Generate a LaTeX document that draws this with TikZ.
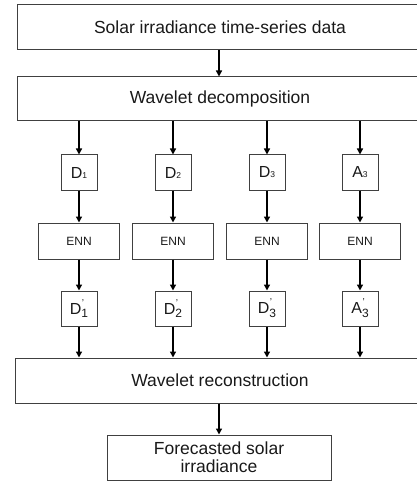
\documentclass[tikz,border=0pt]{standalone}
\usepackage{fontspec}
\setmainfont{Liberation Sans}
\usetikzlibrary{arrows.meta}

% D'_k style label: prime stacked over a subscript
\newcommand{\primed}[2]{#1\rlap{\raisebox{0.95ex}{\fontsize{10}{10}\selectfont\hspace{0.5pt}'}}\raisebox{-0.45ex}{\fontsize{12}{12}\selectfont #2}}
% small inline index used in the first row
\newcommand{\smallidx}[2]{#1\fontsize{8.5}{8.5}\selectfont #2}

\tikzset{
  box/.style={draw=black!75, line width=1pt, rectangle, inner sep=0pt, align=center,
              text=black!90},
  big/.style={box, font=\fontsize{17.5}{20}\selectfont},
  sig/.style={box, minimum width=36pt, minimum height=35pt, font=\fontsize{16}{18}\selectfont},
  enn/.style={box, minimum width=81pt, minimum height=36pt, font=\fontsize{12}{14}\selectfont},
  arr/.style={line width=1.4pt, -{Triangle[length=6pt,width=6pt]}}
}

\begin{document}
\begin{tikzpicture}[x=1pt,y=-1pt]
\useasboundingbox (0,0) rectangle (416,481);

\node[big, minimum width=406pt, minimum height=45pt] (src) at (220,27.5) {Solar irradiance time-series data};
\node[big, minimum width=406pt, minimum height=44pt] (dec) at (220,99) {Wavelet decomposition};

% one column per sub-series
\foreach \n/\x/\lab/\plab in {1/79/{\smallidx{D}{1}}/{\primed{D}{1}},
                              2/173/{\smallidx{D}{2}}/{\primed{D}{2}},
                              3/267/{\smallidx{D}{3}}/{\primed{D}{3}},
                              4/360/{\smallidx{A}{3}}/{\primed{A}{3}}}{
  \node[sig] (c\n) at (\x,172.5) {\lab};
  \node[enn] (e\n) at (\x,241) {ENN};
  \node[sig] (p\n) at (\x,308.5) {\plab};
}

\node[big, minimum width=410pt, minimum height=45pt] (rec) at (220,380.5) {Wavelet reconstruction};
\node[big, minimum width=224pt, minimum height=45pt] (out) at (219,457.5) {Forecasted solar\\[-2pt]irradiance};

\draw[arr] (src.south -| out.north) -- (dec.north -| out.north);
\foreach \n in {1,2,3,4}{
  \draw[arr] (dec.south -| c\n.north) -- (c\n.north);
  \draw[arr] (c\n.south) -- (e\n.north);
  \draw[arr] (e\n.south) -- (p\n.north);
  \draw[arr] (p\n.south) -- (rec.north -| p\n.south);
}
\draw[arr] (rec.south -| out.north) -- (out.north);
\end{tikzpicture}
\end{document}
